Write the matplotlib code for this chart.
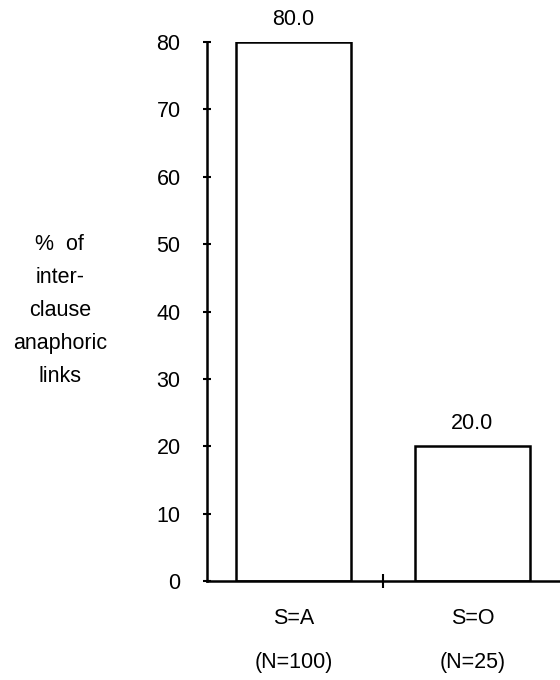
import matplotlib.pyplot as plt

categories = ['S=A', 'S=O']
counts = ['(N=100)', '(N=25)']
percent = [80.0, 20.0]
y_ticks = [0, 10, 20, 30, 40, 50, 60, 70, 80]

plt.rcParams['font.family'] = ['Liberation Sans', 'DejaVu Sans']
fs = 15.5

fig = plt.figure(figsize=(5.6, 6.8), dpi=100)
ax = fig.add_axes([0.3696, 0.1456, 0.6304, 0.7926])

x = list(range(len(categories)))
ax.bar(x, percent, width=0.64, color='white', edgecolor='black', linewidth=1.8)
for xi, v in zip(x, percent):
    ax.annotate(f'{v:.1f}', (xi, v), xytext=(0, 9), textcoords='offset points',
                ha='center', va='bottom', fontsize=fs)

ax.set_xlim(-0.483, 1.489)
ax.set_ylim(0, 80)
ax.set_yticks(y_ticks)
ax.set_yticklabels([str(t) for t in y_ticks])
ax.tick_params(axis='y', direction='inout', length=6, width=1.5, pad=16, labelsize=fs)
ax.set_xticks([0.5])
ax.set_xticklabels([''])
ax.tick_params(axis='x', direction='inout', length=10, width=1.5)

for side in ['top', 'right']:
    ax.spines[side].set_visible(False)
for side in ['left', 'bottom']:
    ax.spines[side].set_linewidth(1.8)

for xi, c, n in zip(x, categories, counts):
    ax.annotate(c, (xi, 0), xytext=(0, -27), textcoords='offset points',
                ha='center', va='center', fontsize=fs, annotation_clip=False)
    ax.annotate(n, (xi, 0), xytext=(0, -59), textcoords='offset points',
                ha='center', va='center', fontsize=fs, annotation_clip=False)

fig.text(0.107, 0.544, '%  of\ninter-\nclause\nanaphoric\nlinks', ha='center',
         va='center', fontsize=fs, linespacing=1.75)

fig.savefig('out.png', dpi=100)
